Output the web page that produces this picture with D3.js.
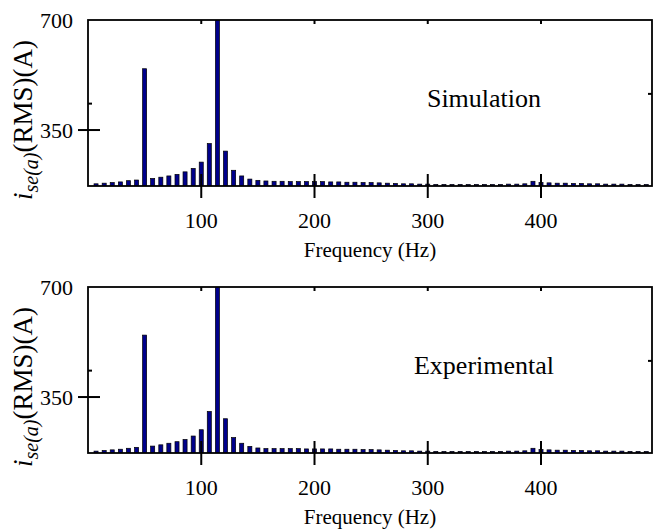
<!DOCTYPE html>
<html>
<head>
<meta charset="utf-8">
<script src="https://cdn.jsdelivr.net/npm/d3@7"></script>
<style>
  body { margin: 0; background: #fff; }
  text { font-family: "Liberation Serif", "DejaVu Serif", serif; fill: #000; }
</style>
</head>
<body>
<div id="chart"></div>
<script>
// harmonic frequencies (Hz)
var freqs = [7.1, 14.3, 21.4, 28.6, 35.7, 42.9, 50.0, 57.1, 64.3, 71.4, 78.6, 85.7, 92.9, 100.0,
    107.1, 114.3, 121.4, 128.6, 135.7, 142.9, 150.0, 157.1, 164.3, 171.4, 178.6, 185.7, 192.9, 200.0,
    207.1, 214.3, 221.4, 228.6, 235.7, 242.9, 250.0, 257.1, 264.3, 271.4, 278.6, 285.7, 292.9, 300.0,
    307.1, 314.3, 321.4, 328.6, 335.7, 342.9, 350.0, 357.1, 364.3, 371.4, 378.6, 385.7, 392.9, 400.0,
    407.1, 414.3, 421.4, 428.6, 435.7, 442.9, 450.0, 457.1, 464.3, 471.4, 478.6, 485.7, 492.9]

// RMS current (A)
var simulation = [179, 181, 183, 185, 189, 191, 545, 196, 200, 204, 209, 217, 228, 248,
    307, 720, 283, 222, 204, 194, 190, 188, 187, 187, 186, 186, 186, 186,
    186, 185, 185, 184, 184, 183, 183, 182, 181, 180, 179, 179, 178, 178,
    177, 177, 177, 177, 177, 177, 177, 177, 177, 178, 178, 179, 187, 183,
    182, 181, 181, 180, 180, 179, 179, 178, 178, 178, 177, 177, 177]

var experimental = [178, 180, 182, 184, 187, 190, 547, 194, 198, 203, 208, 215, 226, 246,
    304, 720, 281, 221, 203, 193, 188, 186, 186, 186, 186, 186, 185, 185,
    185, 185, 184, 184, 184, 183, 183, 182, 181, 180, 179, 179, 178, 178,
    177, 177, 177, 177, 177, 177, 177, 177, 177, 178, 178, 179, 187, 183,
    182, 181, 181, 180, 180, 179, 179, 178, 178, 178, 177, 177, 177]

var xticks = [100, 200, 300, 400]
var yticks = [350, 700]
var yminor_left = 434, yminor_right = 465

var panels = [
    {name: 'Simulation', values: simulation, top: 20},
    {name: 'Experimental', values: experimental, top: 287}
]

const width = 658, height = 531,
      left = 88, right = 652, ph = 166

// small helper since d3-selection-multi is not loaded
function attrs(sel, o){
    Object.keys(o).forEach(k => sel.attr(k, o[k]))
    return sel
}

function tick(g, x1, y1, x2, y2){
    g.append('line')
        .attr('x1', x1).attr('y1', y1)
        .attr('x2', x2).attr('y2', y2)
        .attr('stroke', '#000')
        .attr('stroke-width', 2)
}

var svg = d3.select('#chart').append('svg')
    .attr('width', width)
    .attr('height', height)

var x = d3.scaleLinear().domain([0, 498]).range([left, right])
var barw = x(3.57) - x(0)

panels.forEach(function(p, pi){
    var y = d3.scaleLinear().domain([172, 700]).range([p.top + ph, p.top])
    var g = svg.append('g')
    var base = y(172)

    attrs(g.append('clipPath').attr('id', 'clip' + pi).append('rect'),
        {x: left, y: p.top, width: right - left, height: ph})

    // bars
    g.append('g').attr('clip-path', 'url(#clip' + pi + ')')
        .selectAll('rect')
        .data(p.values)
        .enter()
        .append('rect')
        .attr('x', (d, i) => x(freqs[i]) - barw / 2)
        .attr('width', barw)
        .attr('y', d => y(d))
        .attr('height', d => base - y(d))
        .style('fill', '#00008b')
        .style('stroke', '#000')
        .style('stroke-width', 0.7)

    // frame
    attrs(g.append('rect'), {x: left, y: p.top, width: right - left, height: ph})
        .style('fill', 'none')
        .style('stroke', '#000')
        .style('stroke-width', 1.8)

    // x ticks: cross the bottom spine, small ones inside the top
    xticks.forEach(function(t){
        tick(g, x(t), base - 12, x(t), base + 12)
        tick(g, x(t), p.top, x(t), p.top + 4)
        attrs(g.append('text'), {x: x(t), y: p.top + ph + 42, 'text-anchor': 'middle'})
            .style('font-size', '22px')
            .text(t)
    })

    yticks.forEach(function(t){
        if (t < 700) tick(g, left - 10, y(t), left + 12, y(t))
        attrs(g.append('text'), {x: 73, y: y(t) + 7.5, 'text-anchor': 'end'})
            .style('font-size', '22px')
            .text(t)
    })
    tick(g, left, y(yminor_left), left + 4, y(yminor_left))
    tick(g, right, y(yminor_right), right - 4, y(yminor_right))

    attrs(g.append('text'), {x: (left + right) / 2, y: p.top + ph + 71, 'text-anchor': 'middle'})
        .style('font-size', '21px')
        .text('Frequency (Hz)')

    attrs(g.append('text'), {x: 484, y: p.top + 87, 'text-anchor': 'middle'})
        .style('font-size', '26px')
        .text(p.name)

    var yl = g.append('text')
        .attr('transform', 'translate(32,' + (p.top + 100) + ') rotate(-90)')
        .attr('text-anchor', 'middle')
        .style('font-size', '27px')
    yl.append('tspan').style('font-style', 'italic').text('i')
    yl.append('tspan').style('font-style', 'italic').style('font-size', '20px')
        .attr('dy', 6).text('se(a)')
    yl.append('tspan').attr('dy', -6).text('(RMS)(A)')
})
</script>
</body>
</html>
